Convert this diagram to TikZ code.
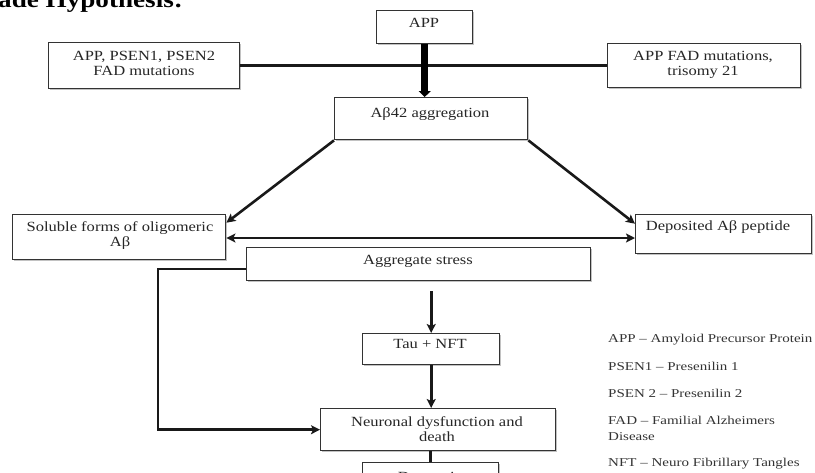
\documentclass[tikz,border=0pt]{standalone}
\usepackage{fontspec}
\setmainfont{Liberation Serif}[FakeStretch=1.18]
\newfontfamily\legfont{Liberation Serif}[FakeStretch=1.25]
\usetikzlibrary{arrows.meta,shadows,calc}
\begin{document}
\begin{tikzpicture}[x=1pt,y=-1pt,
  box/.style={draw=black!80, line width=1.4pt, fill=white, inner sep=0pt, anchor=north west,
    drop shadow={shadow xshift=1.2pt, shadow yshift=-1.2pt, fill=black!40, opacity=0.6}},
  lbl/.style={font=\fontsize{14}{14.5}\selectfont, text=black!85, align=center, anchor=base, inner sep=0pt},
  leg/.style={font=\legfont\fontsize{12}{13}\selectfont, text=black!80, anchor=base west, inner sep=0pt},
  conn/.style={line width=2.6pt, draw=black!90},
  tip/.style={-{Stealth[length=9pt,width=9pt,inset=2pt]}},
  dtip/.style={{Stealth[length=9pt,width=9pt,inset=2pt]}-{Stealth[length=9pt,width=9pt,inset=2pt]}}
]
\useasboundingbox (0,0) rectangle (815,472);

% title (cropped, as in the reference)
\node[font=\bfseries\fontsize{23}{23}\selectfont, anchor=base west, inner sep=0pt] (title) at (-2,7) {ade Hypothesis:};

% boxes
\node[box, minimum width=96pt, minimum height=33pt] (app) at (376,10) {};
\node[box, minimum width=191pt, minimum height=46pt] (fadL) at (48,42) {};
\node[box, minimum width=193pt, minimum height=44pt] (fadR) at (607,43) {};
\node[box, minimum width=193pt, minimum height=42pt] (ab42) at (334,97) {};
\node[box, minimum width=213pt, minimum height=45pt] (sol) at (12,214) {};
\node[box, minimum width=176pt, minimum height=39pt] (dep) at (635,214) {};
\node[box, minimum width=344pt, minimum height=33pt] (agg) at (246,247) {};
\node[box, minimum width=137pt, minimum height=31pt] (tau) at (362,333) {};
\node[box, minimum width=235pt, minimum height=42pt] (neu) at (320,408) {};
\node[box, minimum width=136pt, minimum height=40pt] (dem) at (362,462) {};

% connectors
\draw[conn] (fadL.east) -- (fadR.west);
\draw[line width=7.5pt, draw=black, -{Triangle[length=6pt,width=12pt]}] (app.south) -- (app.south |- ab42.north);
\draw[conn, tip] (ab42.south west) -- ([yshift=14.5pt]sol.east);
\draw[conn, tip] (ab42.south east) -- ([yshift=10.5pt]dep.west);
\coordinate (dbl) at (0,238);
\draw[conn, dtip] (sol.east |- dbl) -- (dep.west |- dbl);
\coordinate (lp) at (158,269);
\draw[conn, tip] (agg.west |- lp) -- (lp) |- (neu.west);
\draw[conn, tip] ($(tau.north |- agg.south)+(0,10)$) -- (tau.north);
\draw[conn, tip] (tau.south) -- (tau.south |- neu.north);
\draw[conn] (dem.north |- neu.south) -- (dem.north);

% texts
\node[lbl] (appT) at (424,27) {APP};
\node[lbl] (fadLT) at (144,75) {APP, PSEN1, PSEN2\\FAD mutations};
\node[lbl] (fadRT) at (703,75) {APP FAD mutations,\\trisomy 21};
\node[lbl] (ab42T) at (430,117) {Aβ42 aggregation};
\node[lbl] (solT) at (120,246) {Soluble forms of oligomeric\\Aβ};
\node[lbl] (depT) at (718,230) {Deposited Aβ peptide};
\node[lbl] (aggT) at (418,264) {Aggregate stress};
\node[lbl] (tauT) at (430,348) {Tau + NFT};
\node[lbl] (neuT) at (437,441) {Neuronal dysfunction and\\death};
\node[lbl] (demT) at (430,481) {Dementia};

% legend
\node[leg] (l1) at (608,342) {APP – Amyloid Precursor Protein};
\node[leg] (l2) at (608,370) {PSEN1 – Presenilin 1};
\node[leg] (l3) at (608,397) {PSEN 2 – Presenilin 2};
\node[leg] (l4) at (608,424) {FAD – Familial Alzheimers};
\node[leg] (l5) at (608,440) {Disease};
\node[leg] (l6) at (608,466) {NFT – Neuro Fibrillary Tangles};
\end{tikzpicture}
\end{document}
